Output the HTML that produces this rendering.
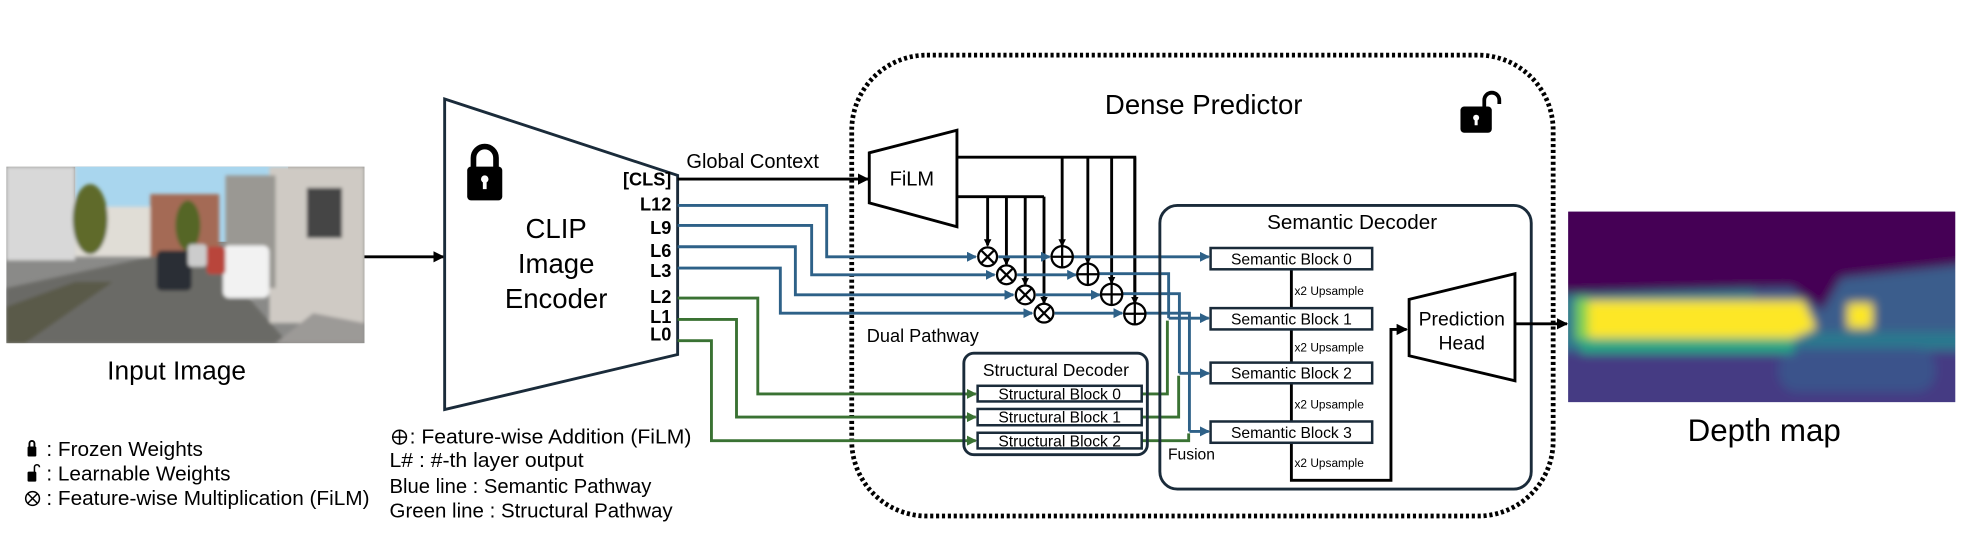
<!DOCTYPE html>
<html><head><meta charset="utf-8"><style>
html,body{margin:0;padding:0;background:#fff;}
svg{display:block;}
text{font-family:"Liberation Sans",sans-serif;fill:#000;}
</style></head><body>
<svg width="1964" height="552" viewBox="0 0 1568 440.7" preserveAspectRatio="none" xmlns="http://www.w3.org/2000/svg">
<defs>
<marker id="ak" markerWidth="6" markerHeight="6" refX="5" refY="3" orient="auto" markerUnits="userSpaceOnUse"><path d="M0,0 L6,3 L0,6z" fill="#000"/></marker>
<marker id="ab" markerWidth="8" markerHeight="8" refX="7" refY="4" orient="auto" markerUnits="userSpaceOnUse"><path d="M0,0 L8,4 L0,8z" fill="#2e6188"/></marker>
<marker id="ag" markerWidth="8" markerHeight="8" refX="7" refY="4" orient="auto" markerUnits="userSpaceOnUse"><path d="M0,0 L8,4 L0,8z" fill="#3a7233"/></marker>
<marker id="ad" markerWidth="9" markerHeight="9" refX="8" refY="4.5" orient="auto" markerUnits="userSpaceOnUse"><path d="M0,0 L9,4.5 L0,9z" fill="#000"/></marker>
<filter id="bl" filterUnits="userSpaceOnUse" x="1200" y="120" width="420" height="250"><feGaussianBlur stdDeviation="4"/></filter>
<filter id="bl2" filterUnits="userSpaceOnUse" x="0" y="120" width="310" height="170"><feGaussianBlur stdDeviation="1.5"/></filter>
<clipPath id="cp1"><rect x="5" y="133" width="286" height="141"/></clipPath>
<clipPath id="cp2"><rect x="1252" y="169" width="309" height="152"/></clipPath>
</defs>

<!-- input image -->
<g clip-path="url(#cp1)">
<rect x="5" y="133" width="286" height="141" fill="#8a8a88"/>
<rect x="60" y="133" width="170" height="60" fill="#a9d6ee"/>
<g filter="url(#bl2)">
<rect x="5" y="133" width="55" height="75" fill="#d8d8d8"/>
<rect x="60" y="165" width="70" height="40" fill="#e0ddd6"/>
<rect x="120" y="155" width="55" height="50" fill="#a46a55"/>
<ellipse cx="72" cy="175" rx="14" ry="28" fill="#5e6a2b"/>
<ellipse cx="150" cy="180" rx="10" ry="20" fill="#556628"/>
<rect x="215" y="133" width="76" height="125" fill="#cfcac4"/>
<rect x="180" y="140" width="40" height="90" fill="#9a9893"/>
<rect x="245" y="150" width="28" height="40" fill="#444"/>
<polygon points="5,274 5,230 120,205 170,205 230,274" fill="#6b6a66"/>
<polygon points="5,245 60,225 90,225 20,274 5,274" fill="#5a5a4a"/>
<rect x="125" y="200" width="28" height="32" rx="4" fill="#2b2f36"/>
<rect x="178" y="196" width="37" height="42" rx="5" fill="#f2f2f2"/>
<rect x="165" y="197" width="15" height="22" rx="3" fill="#b9453a"/>
<rect x="150" y="195" width="15" height="18" rx="3" fill="#ccc"/>
<polygon points="220,274 250,250 291,258 291,274" fill="#9c9a97"/>
</g>
</g>
<text x="141" y="303" font-size="21" text-anchor="middle">Input Image</text>
<line x1="291" y1="205" x2="354" y2="205" stroke="#000" stroke-width="2.3" marker-end="url(#ad)"/>

<!-- encoder -->
<polygon points="355,79 541,140 541,283 355,327" fill="#fff" stroke="#1a2b3a" stroke-width="2.3"/>
<g>
<rect x="373" y="133" width="28" height="27" rx="3" fill="#000"/>
<path d="M378,134 v-8 a9,9 0 0 1 18,0 v8" fill="none" stroke="#000" stroke-width="4.5"/>
<circle cx="387" cy="143" r="3" fill="#fff"/><rect x="385.5" y="144" width="3" height="7" fill="#fff"/>
</g>
<text x="444" y="190" font-size="22" text-anchor="middle">CLIP</text>
<text x="444" y="218" font-size="22" text-anchor="middle">Image</text>
<text x="444" y="246" font-size="22" text-anchor="middle">Encoder</text>
<g font-size="14.5" font-weight="bold" text-anchor="end">
<text x="536" y="148">[CLS]</text>
<text x="536" y="168">L12</text>
<text x="536" y="187">L9</text>
<text x="536" y="205">L6</text>
<text x="536" y="221">L3</text>
<text x="536" y="242">L2</text>
<text x="536" y="258">L1</text>
<text x="536" y="272">L0</text>
</g>

<!-- dense predictor frame -->
<rect x="680" y="44" width="560" height="368" rx="60" fill="none" stroke="#000" stroke-width="3.8" stroke-dasharray="2.5,2.2"/>
<text x="961" y="91" font-size="22" text-anchor="middle">Dense Predictor</text>
<g>
<rect x="1166" y="85" width="25" height="21" rx="3" fill="#000"/>
<path d="M1185,86 v-6 a6,6 0 0 1 12,0 v3" fill="none" stroke="#000" stroke-width="3"/>
<circle cx="1178.5" cy="94" r="2.4" fill="#fff"/><rect x="1177.3" y="95" width="2.4" height="5" fill="#fff"/>
</g>

<!-- Global context -->
<text x="548" y="134" font-size="16">Global Context</text>
<line x1="541" y1="143" x2="693" y2="143" stroke="#000" stroke-width="2.3" marker-end="url(#ad)"/>

<!-- FiLM -->
<polygon points="694,122 764,104 764,181 694,162" fill="#fff" stroke="#000" stroke-width="2.3"/>
<text x="728" y="148" font-size="16" text-anchor="middle">FiLM</text>

<!-- black distribution lines -->
<g stroke="#000" stroke-width="2.3" fill="none">
<polyline points="764,125.5 906,125.5 906,242"/>
<line x1="848" y1="125.5" x2="848" y2="196" marker-end="url(#ak)"/>
<line x1="868.5" y1="125.5" x2="868.5" y2="210" marker-end="url(#ak)"/>
<line x1="887.5" y1="125.5" x2="887.5" y2="226" marker-end="url(#ak)"/>
<line x1="906" y1="125.5" x2="906" y2="242" marker-end="url(#ak)"/>
<polyline points="764,157 833.5,157"/>
<line x1="788.5" y1="157" x2="788.5" y2="196" marker-end="url(#ak)"/>
<line x1="803.5" y1="157" x2="803.5" y2="211" marker-end="url(#ak)"/>
<line x1="818.5" y1="157" x2="818.5" y2="227" marker-end="url(#ak)"/>
<line x1="833.5" y1="157" x2="833.5" y2="242" marker-end="url(#ak)"/>
</g>

<!-- blue lines -->
<g stroke="#2e6188" stroke-width="2.3" fill="none">
<polyline points="541,164 660,164 660,205 779,205" marker-end="url(#ab)"/>
<polyline points="541,180 648,180 648,219.4 794,219.4" marker-end="url(#ab)"/>
<polyline points="541,197 635,197 635,235.4 809,235.4" marker-end="url(#ab)"/>
<polyline points="541,214 623,214 623,250 824,250" marker-end="url(#ab)"/>
<line x1="797" y1="205" x2="838" y2="205" marker-end="url(#ab)"/>
<line x1="812" y1="219.4" x2="859" y2="219.4" marker-end="url(#ab)"/>
<line x1="827" y1="235.4" x2="878" y2="235.4" marker-end="url(#ab)"/>
<line x1="842" y1="250" x2="896" y2="250" marker-end="url(#ab)"/>
<line x1="857" y1="205" x2="965" y2="205" marker-end="url(#ab)"/>
<polyline points="877,218.5 933,218.5 933,254"/>
<polyline points="896,234.5 941.6,234.5 941.6,298"/>
<polyline points="915,250 949.6,250 949.6,344.4"/>
<line x1="933" y1="254" x2="965" y2="254" marker-end="url(#ab)"/>
<line x1="941.6" y1="298" x2="965" y2="298" marker-end="url(#ab)"/>
<line x1="949.6" y1="344.4" x2="965" y2="344.4" marker-end="url(#ab)"/>
</g>

<!-- circles -->
<g stroke="#000" stroke-width="1.8" fill="#fff">
<g><circle cx="788.5" cy="205" r="7.5"/><path d="M783.2,199.7 L793.8,210.3 M793.8,199.7 L783.2,210.3"/></g>
<g><circle cx="803.5" cy="219.4" r="7.5"/><path d="M798.2,214.1 L808.8,224.7 M808.8,214.1 L798.2,224.7"/></g>
<g><circle cx="818.5" cy="235.4" r="7.5"/><path d="M813.2,230.1 L823.8,240.7 M823.8,230.1 L813.2,240.7"/></g>
<g><circle cx="833.5" cy="250" r="7.5"/><path d="M828.2,244.7 L838.8,255.3 M838.8,244.7 L828.2,255.3"/></g>
<g><circle cx="848" cy="205" r="8.5"/><path d="M839.5,205 H856.5 M848,196.5 V213.5"/></g>
<g><circle cx="868.5" cy="219" r="8.5"/><path d="M860,219 H877 M868.5,210.5 V227.5"/></g>
<g><circle cx="887.5" cy="235" r="8.5"/><path d="M879,235 H896 M887.5,226.5 V243.5"/></g>
<g><circle cx="906" cy="250.5" r="8.5"/><path d="M897.5,250.5 H914.5 M906,242 V259"/></g>
</g>

<!-- green lines -->
<g stroke="#3a7233" stroke-width="2.3" fill="none">
<polyline points="541,238 605,238 605,314.5 779,314.5" marker-end="url(#ag)"/>
<polyline points="541,255 588,255 588,333 779,333" marker-end="url(#ag)"/>
<polyline points="541,272 568,272 568,351.8 779,351.8" marker-end="url(#ag)"/>
<polyline points="912,314.5 932,314.5 932,256"/>
<polyline points="912,333 941,333 941,300"/>
<polyline points="912,351.8 949,351.8 949,346"/>
</g>

<text x="692" y="273" font-size="14.5">Dual Pathway</text>

<!-- structural decoder -->
<rect x="769.5" y="282" width="146.5" height="81" rx="8" fill="none" stroke="#1a2b3a" stroke-width="2.3"/>
<text x="843" y="300" font-size="14" text-anchor="middle">Structural Decoder</text>
<g stroke="#1a2b3a" stroke-width="2" fill="#fff">
<rect x="780.5" y="308" width="131" height="12.5"/>
<rect x="780.5" y="326.5" width="131" height="13"/>
<rect x="780.5" y="345.5" width="131" height="12.5"/>
</g>
<g font-size="12.5" text-anchor="middle">
<text x="846" y="319">Structural Block 0</text>
<text x="846" y="337.5">Structural Block 1</text>
<text x="846" y="356.5">Structural Block 2</text>
</g>

<!-- semantic decoder -->
<rect x="926" y="164" width="296.5" height="226.5" rx="14" fill="none" stroke="#1a2b3a" stroke-width="2.3"/>
<text x="1079.5" y="183" font-size="16.5" text-anchor="middle">Semantic Decoder</text>
<polyline points="1031,206 1031,383.5 1110.5,383.5 1110.5,263 1123,263" fill="none" stroke="#000" stroke-width="2.3" marker-end="url(#ad)"/>
<g stroke="#1a2b3a" stroke-width="2" fill="#fff">
<rect x="966.5" y="198" width="129" height="17"/>
<rect x="966.5" y="246" width="129" height="17"/>
<rect x="966.5" y="289.5" width="129" height="16.5"/>
<rect x="966.5" y="336.5" width="129" height="17"/>
</g>
<g font-size="12.5" text-anchor="middle">
<text x="1031" y="211">Semantic Block 0</text>
<text x="1031" y="259">Semantic Block 1</text>
<text x="1031" y="302">Semantic Block 2</text>
<text x="1031" y="349.5">Semantic Block 3</text>
</g>
<g font-size="9.5">
<text x="1033.5" y="235.5">x2 Upsample</text>
<text x="1033.5" y="280.5">x2 Upsample</text>
<text x="1033.5" y="326">x2 Upsample</text>
<text x="1033.5" y="373">x2 Upsample</text>
</g>
<text x="932.5" y="367" font-size="12.5">Fusion</text>

<!-- prediction head -->
<polygon points="1125,239 1209.5,218.5 1209.5,304 1125,284" fill="#fff" stroke="#000" stroke-width="2.3"/>
<text x="1167" y="260" font-size="15.5" text-anchor="middle">Prediction</text>
<text x="1167" y="279" font-size="15.5" text-anchor="middle">Head</text>
<line x1="1209.5" y1="258.5" x2="1251" y2="258.5" stroke="#000" stroke-width="2.3" marker-end="url(#ad)"/>

<!-- depth map -->
<g clip-path="url(#cp2)">
<rect x="1252" y="169" width="309" height="152" fill="#414487"/>
<g filter="url(#bl)">
<rect x="1240" y="225" width="340" height="60" fill="#2a788e"/>
<rect x="1400" y="205" width="170" height="60" fill="#3b5d8c"/>
<rect x="1240" y="280" width="340" height="50" fill="#443a83"/>
<polygon points="1240,160 1580,160 1580,210 1470,222 1455,248 1430,230 1240,235" fill="#440154"/>
<polygon points="1262,240 1440,240 1450,262 1420,275 1262,278" fill="#fde725"/>
<rect x="1258" y="238" width="10" height="34" fill="#7ad151"/>
<rect x="1475" y="242" width="20" height="20" fill="#fde725"/>
<rect x="1420" y="278" width="125" height="35" rx="15" fill="#3b528b"/>
<rect x="1262" y="270" width="170" height="12" fill="#22a884"/>
</g>
</g>
<text x="1408.5" y="352" font-size="25" text-anchor="middle">Depth map</text>

<!-- legends -->
<g>
<rect x="22" y="356.5" width="7" height="8" rx="1" fill="#000"/>
<path d="M23.5,357 v-3 a2,2 0 0 1 4,0 v3" fill="none" stroke="#000" stroke-width="1.5"/>
<rect x="22" y="376.5" width="7" height="8" rx="1" fill="#000"/>
<path d="M27.5,377 v-4 a2,2 0 0 1 4,0" fill="none" stroke="#000" stroke-width="1.2"/>
<circle cx="26" cy="398" r="5.5" fill="none" stroke="#000" stroke-width="1.2"/>
<path d="M22.1,394.1 L29.9,401.9 M29.9,394.1 L22.1,401.9" stroke="#000" stroke-width="1.2"/>
</g>
<g font-size="16">
<text x="37" y="364" textLength="125" lengthAdjust="spacingAndGlyphs">: Frozen Weights</text>
<text x="37" y="383.5" textLength="147" lengthAdjust="spacingAndGlyphs">: Learnable Weights</text>
<text x="37" y="403" textLength="258" lengthAdjust="spacingAndGlyphs">: Feature-wise Multiplication (FiLM)</text>
<text x="327" y="354" textLength="225" lengthAdjust="spacingAndGlyphs">: Feature-wise Addition (FiLM)</text>
<text x="311" y="373" textLength="155" lengthAdjust="spacingAndGlyphs">L# : #-th layer output</text>
<text x="311" y="393.5" textLength="209" lengthAdjust="spacingAndGlyphs">Blue line : Semantic Pathway</text>
<text x="311" y="413" textLength="226" lengthAdjust="spacingAndGlyphs">Green line : Structural Pathway</text>
</g>
<g stroke="#000" stroke-width="1.2" fill="none">
<circle cx="319" cy="349" r="5.5"/><path d="M313.5,349 H324.5 M319,343.5 V354.5"/>
</g>
</svg>
</body></html>
